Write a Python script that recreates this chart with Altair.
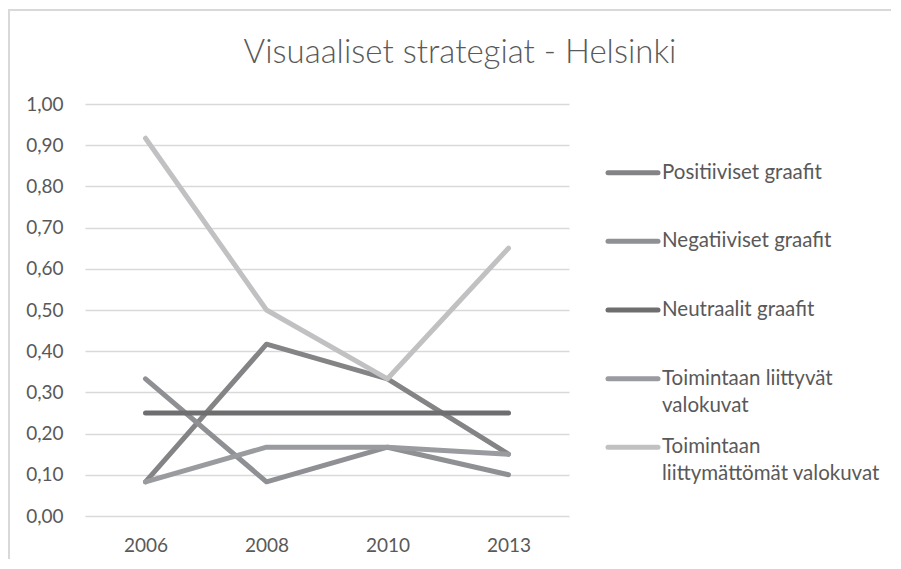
import altair as alt
import pandas as pd

years = ["2006", "2008", "2010", "2013"]
series = [
    "Positiiviset graafit",
    "Negatiiviset graafit",
    "Neutraalit graafit",
    "Toimintaan liittyvät valokuvat",
    "Toimintaan liittymättömät valokuvat",
]
legend_labels = [
    "Positiiviset graafit",
    "Negatiiviset graafit",
    "Neutraalit graafit",
    "Toimintaan liittyvät\nvalokuvat",
    "Toimintaan\nliittymättömät valokuvat",
]
positiiviset = [0.083, 0.417, 0.333, 0.15]
negatiiviset = [0.333, 0.083, 0.167, 0.10]
neutraalit = [0.25, 0.25, 0.25, 0.25]
liittyvat = [0.083, 0.167, 0.167, 0.15]
liittymattomat = [0.917, 0.50, 0.333, 0.65]
colors = ["#848487", "#8f9093", "#6e6e71", "#999b9e", "#c1c1c3"]
y_ticks = [0.0, 0.1, 0.2, 0.3, 0.4, 0.5, 0.6, 0.7, 0.8, 0.9, 1.0]

values_by_series = [positiiviset, negatiiviset, neutraalit, liittyvat, liittymattomat]
rows = []
for i, (s, vals) in enumerate(zip(series, values_by_series)):
    for y, v in zip(years, vals):
        rows.append({"series": s, "year": y, "value": v, "order": i})
df = pd.DataFrame(rows)
leg_df = pd.DataFrame({"series": series, "label": legend_labels})

TXT = "#595959"
GRID = "#d9d9d9"
FONT = "Lato"

color_scale = alt.Scale(domain=series, range=colors)

lines = alt.Chart(df).mark_line(strokeWidth=5, strokeCap="round", strokeJoin="round").encode(
    x=alt.X("year:O", sort=years, scale=alt.Scale(type="point", padding=0.5),
            axis=alt.Axis(title=None, labelAngle=0, ticks=False, domain=False, grid=False,
                          labelPadding=20, labelFontSize=19, labelColor=TXT, labelFont=FONT)),
    y=alt.Y("value:Q", scale=alt.Scale(domain=[0, 1], nice=False),
            axis=alt.Axis(title=None, values=y_ticks, ticks=False, domain=False,
                          grid=True, gridColor=GRID, gridWidth=1.6,
                          labelExpr="replace(format(datum.value, '.2f'), '.', ',')",
                          labelPadding=22, labelFontSize=19, labelColor=TXT, labelFont=FONT)),
    color=alt.Color("series:N", scale=color_scale, legend=None),
    detail="order:O",
)

frame_df = pd.DataFrame({"a": [0]})
frame_top = alt.Chart(frame_df).mark_rule(color=GRID, strokeWidth=2).encode(
    x=alt.value(-76), x2=alt.value(806), y=alt.value(-94))
frame_left = alt.Chart(frame_df).mark_rule(color=GRID, strokeWidth=2).encode(
    x=alt.value(-76), y=alt.value(-95), y2=alt.value(455))

main = alt.layer(frame_top, frame_left, lines).properties(width=484, height=412)

leg_y = alt.Y("series:N", sort=series, scale=alt.Scale(type="point", padding=1), axis=None)
leg_sym = alt.Chart(leg_df).mark_rule(strokeWidth=5, strokeCap="round").encode(
    x=alt.value(1), x2=alt.value(51), y=leg_y,
    color=alt.Color("series:N", scale=color_scale, legend=None))
leg_txt = alt.Chart(leg_df).mark_text(align="left", baseline="alphabetic", dy=6, lineBreak="\n",
                                      lineHeight=27, font=FONT, fontSize=20.5, color=TXT).encode(
    x=alt.value(55), y=leg_y, text="label:N")
legend = alt.layer(leg_sym, leg_txt).properties(width=240, height=412)

chart = alt.hconcat(main, legend, spacing=38, bounds="flush").properties(
    title=alt.TitleParams("Visuaaliset strategiat - Helsinki", font=FONT, fontSize=33,
                          fontWeight=300, color=TXT, anchor="middle", offset=-88,
                          baseline="alphabetic", dx=10),
    padding={"left": 0, "top": 0, "right": 0, "bottom": 0},
).configure_view(stroke=None)

chart.save("out.html", embed_options={"renderer": "svg", "actions": False})
